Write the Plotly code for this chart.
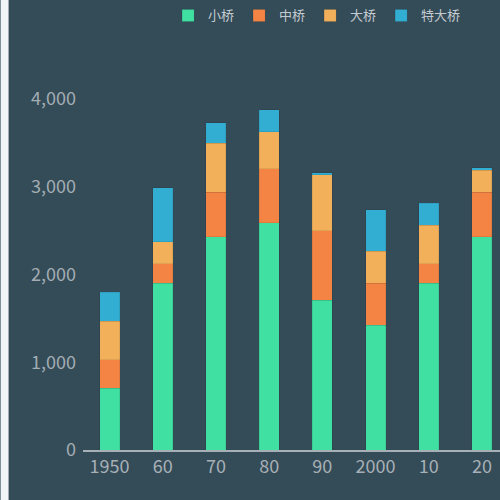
import plotly.graph_objects as go

categories = ["1950", "60", "70", "80", "90", "2000", "10", "20"]
small = [705, 1900, 2430, 2590, 1705, 1420, 1900, 2430]
medium = [325, 225, 510, 615, 795, 480, 225, 505]
large = [435, 250, 555, 420, 635, 365, 435, 255]
xlarge = [330, 615, 235, 250, 25, 475, 250, 25]
series_names = ["小桥", "中桥", "大桥", "特大桥"]
colors = ["#40dfa2", "#f48443", "#f2b05a", "#32aed2"]

font_family = "Noto Sans CJK SC, Noto Sans, sans-serif"
bg = "#344b58"

fig = go.Figure()
for name, vals, col in zip(series_names, [small, medium, large, xlarge], colors):
    fig.add_trace(go.Bar(
        x=categories, y=vals, name=name,
        marker=dict(color=col, line=dict(color="rgba(0,0,0,0.12)", width=0.6)),
    ))

fig.update_layout(
    width=500, height=500,
    barmode="stack", bargap=0.624,
    paper_bgcolor=bg, plot_bgcolor=bg,
    margin=dict(l=82.5, r=0, t=97, b=50, pad=0),
    font=dict(family=font_family, color="#a3adb3"),
    showlegend=True,
    legend=dict(
        orientation="h", traceorder="normal",
        x=0.204, xanchor="left", y=1.238, yanchor="middle",
        font=dict(size=13, color="#c4cbd0", family=font_family),
        bgcolor="rgba(0,0,0,0)",
    ),
    xaxis=dict(
        type="category", range=[-0.5, 7.34],
        showline=True, linecolor="#a7b0b6", linewidth=1.5,
        showgrid=False, zeroline=False, ticks="",
        tickfont=dict(size=18, color="#a7b0b6", family=font_family),
    ),
    yaxis=dict(
        range=[0, 4000], tickvals=[0, 1000, 2000, 3000, 4000],
        tickformat=",", showgrid=False, zeroline=False, showline=False,
        ticks="", ticklabelstandoff=6,
        tickfont=dict(size=18, color="#a3adb3", family=font_family),
    ),
    shapes=[dict(
        type="rect", xref="paper", yref="paper",
        x0=-82.5 / 417.5, x1=(8 - 82.5) / 417.5, y0=-1, y1=2,
        fillcolor="#f2f4f8", line=dict(width=0), layer="above",
    )],
)

fig.write_html(
    "out.html",
    config={"displayModeBar": False},
    post_script="document.body.style.margin='0';document.body.style.background='#344b58';",
)
